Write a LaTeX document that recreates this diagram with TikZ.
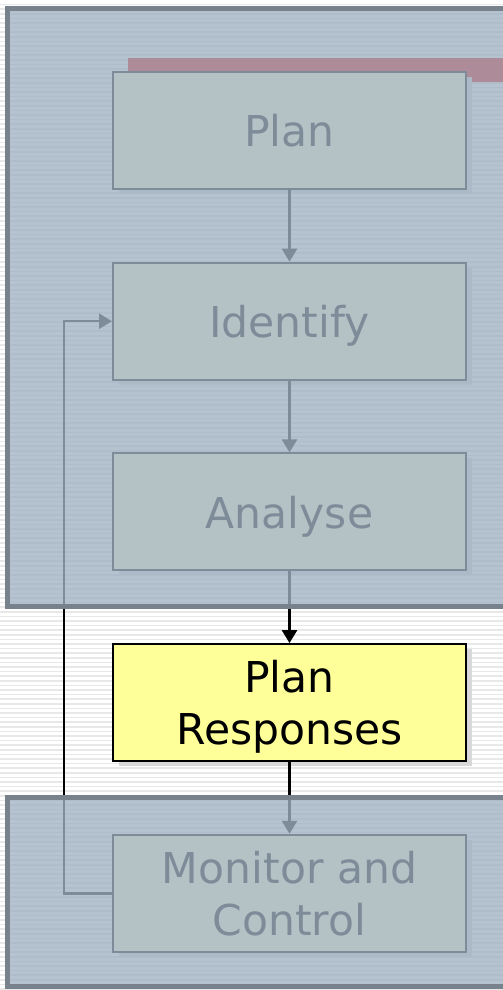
\documentclass[tikz,border=0pt]{standalone}
\usepackage{fontspec}
\setmainfont{DejaVu Sans}
\usetikzlibrary{arrows.meta,positioning,shadows}

\definecolor{boxfill}{RGB}{255,255,153}
\definecolor{veil}{RGB}{161,177,194}
\definecolor{veilrim}{RGB}{119,130,141}
\definecolor{flag}{RGB}{220,0,0}
\definecolor{stripe}{RGB}{232,232,232}

\begin{document}
\begin{tikzpicture}[
    x=1pt, y=1pt,
    node distance=71.7pt,
    >={Triangle[length=13pt,width=15pt]},
    font=\fontsize{42.5}{52}\selectfont,
    % Styles
    stepbox/.style={rectangle, draw=black, line width=2pt, fill=boxfill, minimum width=353pt, minimum height=117pt, align=center, text depth=0pt, inner sep=0pt, drop shadow={shadow xshift=6pt, shadow yshift=-5pt, fill=black!15, opacity=1}},
    veiled/.style={stepbox, fill=boxfill!45!white},
    arrow/.style={->, line width=2.6pt, draw=black},
    stripeline/.style={draw=stripe, line width=1.6pt},
    veilbox/.style={fill=veil, fill opacity=0.79, draw=veilrim, line width=5pt}
]
\useasboundingbox (0,0) rectangle (503,990);
\clip (0,0) rectangle (503,990);

% --- Striped page ---
\foreach \y in {1,5.6,...,990} \draw[stripeline] (0,\y) -- (503,\y);

% --- Process steps ---
\fill[flag] (128,908) rectangle (530,932);
\node[veiled] (plan) at (289.5,859.5) {Plan};
\node[veiled, below=of plan] (identify) {Identify};
\node[veiled, below=of identify] (analyse) {Analyse};
\node[stepbox, below=of analyse] (responses) {Plan\\Responses};
\node[veiled, below=of responses] (monitor) {Monitor and\\Control};

% --- Connections ---
\draw[arrow] (plan) -- (identify);
\draw[arrow] (identify) -- (analyse);
\draw[arrow] (analyse) -- (responses);
\draw[arrow] (responses) -- (monitor);
\draw[arrow] (monitor.west) -- ++(-48,0) |- (identify.west); % loop back

% --- Shaded panels ---
\draw[veilbox] (7.5,383.5) rectangle (530,981.5);
\draw[veilbox] (7.5,3) rectangle (530,192);

\end{tikzpicture}
\end{document}
